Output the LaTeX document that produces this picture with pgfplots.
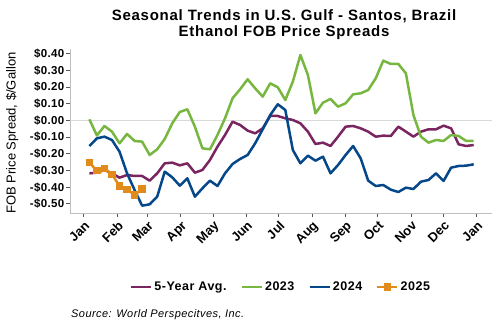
\documentclass[border=0pt]{standalone}
\usepackage{fontspec}
\setmainfont{Liberation Sans}
\usepackage{pgfplots}
\pgfplotsset{compat=1.18}
\usepackage{pgfplotstable}
\definecolor{cavg}{RGB}{122,36,96}
\definecolor{c23}{RGB}{119,183,64}
\definecolor{c24}{RGB}{6,71,138}
\definecolor{c25}{RGB}{224,139,28}
\definecolor{axgray}{RGB}{191,191,191}
\definecolor{tkgray}{RGB}{89,89,89}
\definecolor{zgray}{RGB}{217,217,217}
\newcommand\ls[1]{\addfontfeatures{LetterSpace=#1}}

% x = day of year (weekly points), y = spread in $/gallon
\pgfplotstableread{
x y
5 -0.317
12 -0.313
19 -0.297
26 -0.317
33 -0.343
40 -0.327
47 -0.333
54 -0.333
61 -0.361
68 -0.317
75 -0.257
82 -0.253
89 -0.269
96 -0.257
103 -0.313
110 -0.297
117 -0.237
124 -0.157
131 -0.087
138 -0.007
145 -0.027
152 -0.061
159 -0.077
166 -0.047
173 0.027
180 0.027
187 0.013
194 0.003
201 -0.017
208 -0.067
215 -0.141
222 -0.133
229 -0.153
236 -0.097
243 -0.037
250 -0.033
257 -0.047
264 -0.067
271 -0.097
278 -0.091
285 -0.093
292 -0.037
299 -0.067
306 -0.097
313 -0.067
320 -0.053
327 -0.053
334 -0.031
341 -0.047
348 -0.143
355 -0.153
362 -0.147
}\tavg

\pgfplotstableread{
x y
5 0.007
12 -0.090
19 -0.033
26 -0.067
33 -0.137
40 -0.081
47 -0.123
54 -0.127
61 -0.207
68 -0.173
75 -0.111
82 -0.017
89 0.051
96 0.067
103 -0.037
110 -0.167
117 -0.173
124 -0.087
131 0.013
138 0.133
145 0.187
152 0.247
159 0.193
166 0.143
173 0.223
180 0.199
187 0.123
194 0.233
201 0.393
208 0.273
215 0.043
222 0.107
229 0.129
236 0.083
243 0.103
250 0.157
257 0.163
264 0.183
271 0.253
278 0.359
285 0.339
292 0.339
299 0.283
306 0.033
313 -0.097
320 -0.133
327 -0.117
334 -0.123
341 -0.087
348 -0.093
355 -0.123
362 -0.123
}\tyy

\pgfplotstableread{
x y
5 -0.153
12 -0.107
19 -0.097
26 -0.117
33 -0.187
40 -0.317
47 -0.417
54 -0.511
61 -0.503
68 -0.457
75 -0.307
82 -0.341
89 -0.391
96 -0.347
103 -0.457
110 -0.407
117 -0.361
124 -0.393
131 -0.317
138 -0.261
145 -0.231
152 -0.207
159 -0.137
166 -0.053
173 0.033
180 0.097
187 0.063
194 -0.177
201 -0.257
208 -0.211
215 -0.241
222 -0.217
229 -0.317
236 -0.267
243 -0.207
250 -0.153
257 -0.227
264 -0.361
271 -0.393
278 -0.387
285 -0.415
292 -0.429
299 -0.403
306 -0.411
313 -0.367
320 -0.357
327 -0.317
334 -0.363
341 -0.283
348 -0.273
355 -0.271
362 -0.263
}\tyz

\pgfplotstableread{
x y
5 -0.253
12 -0.301
19 -0.287
26 -0.323
33 -0.393
40 -0.413
47 -0.447
54 -0.411
}\tyf

\begin{document}
\begin{tikzpicture}
\useasboundingbox (0pt,0pt) rectangle (500pt,-330pt);
\node[font=\fontsize{15}{16}\selectfont\bfseries\ls{5}, align=center] at (284pt,-24.5pt)
  {Seasonal Trends in U.S. Gulf - Santos, Brazil\\Ethanol FOB Price Spreads};
\begin{axis}[
  at={(70pt,-213pt)}, anchor=south west,
  scale only axis, width=422pt, height=164.2pt,
  xmin=-13, xmax=379, ymin=-0.555, ymax=0.43,
  axis x line*=bottom, axis y line*=left,
  axis line style={axgray, line width=1pt},
  tick style={tkgray, line width=1pt}, tick align=outside, major tick length=4pt,
  xtick={0,31,59,90,120,151,181,212,243,273,304,334,365},
  xticklabels={Jan,Feb,Mar,Apr,May,Jun,Jul,Aug,Sep,Oct,Nov,Dec,Jan},
  xticklabel style={rotate=45, anchor=north east, font=\fontsize{13}{13}\selectfont\bfseries, inner sep=2pt},
  ytick={-0.5,-0.4,-0.3,-0.2,-0.1,0,0.1,0.2,0.3,0.4},
  yticklabels={-\$0.50,-\$0.40,-\$0.30,-\$0.20,-\$0.10,\$0.00,\$0.10,\$0.20,\$0.30,\$0.40},
  yticklabel style={font=\fontsize{11.5}{11.5}\selectfont\bfseries\ls{3}, inner sep=1.5pt},
  ylabel={FOB Price Spread, \$/Gallon},
  ylabel style={at={(axis description cs:-0.137,0.487)}, anchor=center, font=\fontsize{13}{13}\selectfont},
  legend columns=4,
  legend style={at={(0.5,-0.45)}, anchor=center, draw=none, fill=none,
    font=\fontsize{12.5}{12.5}\selectfont\bfseries\ls{4},
    /tikz/every even column/.append style={column sep=12pt}},
  legend image code/.code={\draw[mark repeat=2, mark phase=2, #1] plot coordinates {(0pt,0pt) (10pt,0pt) (20pt,0pt)};},
  clip=false,
]
\addplot[zgray, line width=1pt, forget plot] coordinates {(-13,0) (379,0)};
\addplot[cavg, line width=2.5pt, line join=round] table[x=x,y=y] {\tavg};
\addlegendentry{5-Year Avg.}
\addplot[c23, line width=2.5pt, line join=round] table[x=x,y=y] {\tyy};
\addlegendentry{2023}
\addplot[c24, line width=2.5pt, line join=round] table[x=x,y=y] {\tyz};
\addlegendentry{2024}
\addplot[c25, line width=2.5pt, line join=round, mark=square*, mark size=3.2pt, mark options={line width=0pt}] table[x=x,y=y] {\tyf};
\addlegendentry{2025}
\end{axis}
\node[anchor=west, inner sep=0pt, font=\fontsize{11}{11}\selectfont\itshape\ls{4}] at (71pt,-315pt) {Source: World Perspecitves, Inc.};
\end{tikzpicture}
\end{document}
